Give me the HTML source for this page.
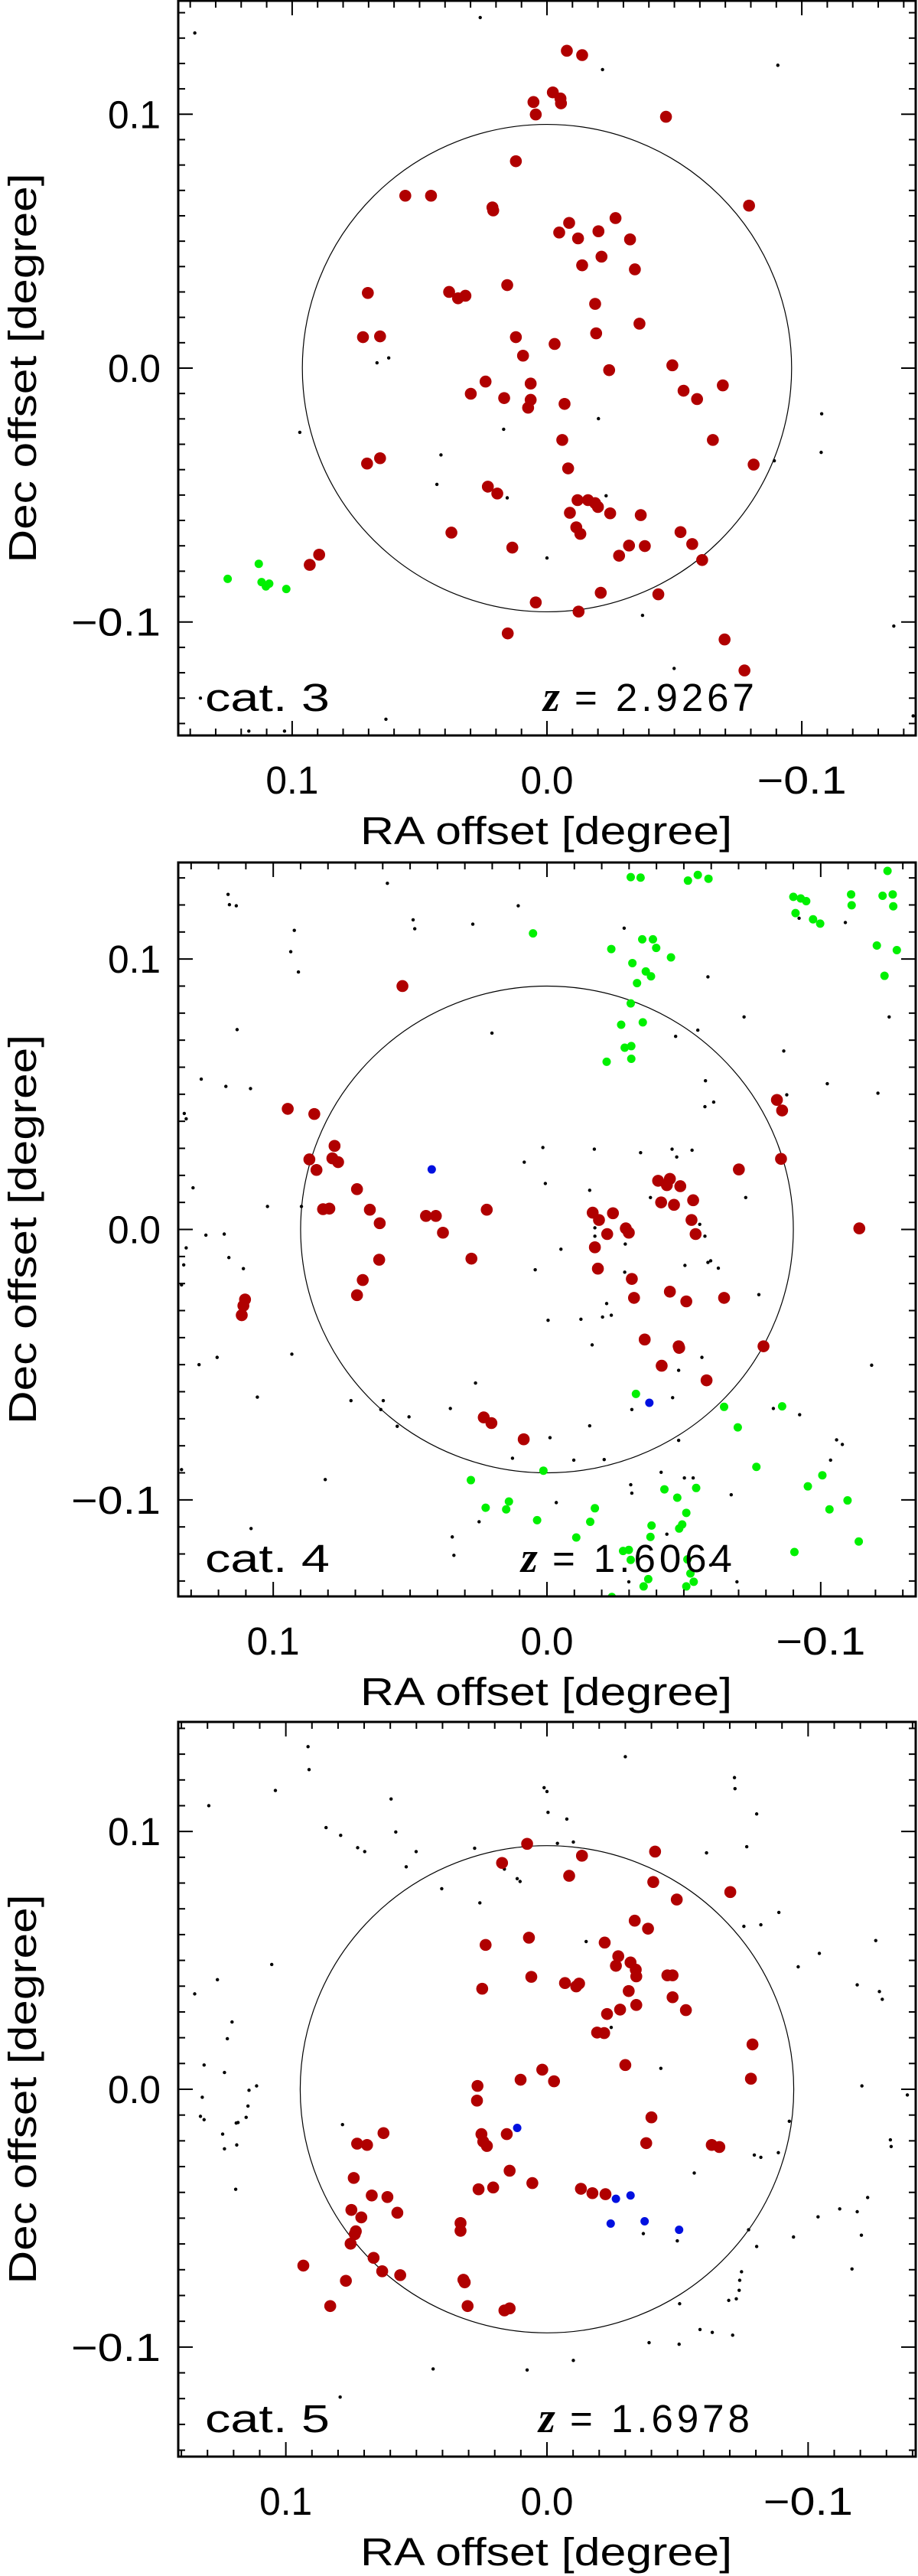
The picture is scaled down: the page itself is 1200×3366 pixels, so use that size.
<!DOCTYPE html>
<html><head><meta charset="utf-8">
<style>
html,body{margin:0;padding:0;background:#fff;}
svg{display:block;}
text{font-family:"Liberation Sans",sans-serif;fill:#000;}
</style></head>
<body>
<svg id="fig" width="1200" height="3366" viewBox="0 0 1200 3366" xmlns="http://www.w3.org/2000/svg"></svg>
<script>
// ---- data (milli-degrees: [RA offset, Dec offset]) ----
const tickValues = [0.1, 0.0, -0.1];
const tickLabels = ["0.1", "0.0", "\u22120.1"];
const catLabels = ["cat. 3", "cat. 4", "cat. 5"];
const zLabels = ["2.9267", "  1.6064", "1.6978"];
const circleRadii = [0.096, 0.090, 0.0945];

const cat3Red = [[-7.8,125.0],[-13.8,123.3],[5.3,104.8],[4.4,99.9],[-2.3,108.6],[-5.3,106.2],[-5.5,104.3],[-46.7,99.0],[12.2,81.5],[55.6,67.9],[45.5,67.9],[21.4,63.3],[21.1,62.1],[-79.3,64.0],[-8.7,57.2],[-26.9,59.1],[-4.8,53.4],[-12.2,51.1],[-20.2,53.9],[-32.6,50.7],[-21.4,43.9],[-13.8,40.5],[-34.5,38.9],[70.3,29.6],[38.4,30.0],[34.9,27.5],[32.0,28.5],[15.6,32.7],[-18.9,25.3],[-36.3,17.5],[72.2,12.2],[65.5,12.5],[-19.3,13.7],[12.2,12.2],[-3.0,9.5],[9.4,4.9],[-24.4,-0.8],[-49.2,1.1],[24.1,-5.3],[6.4,-6.1],[29.9,-10.1],[16.8,-11.8],[6.4,-12.5],[7.4,-15.6],[-6.9,-14.1],[-53.6,-8.9],[-58.9,-12.2],[-69.0,-6.8],[-6.0,-28.3],[-65.1,-28.3],[70.6,-37.6],[65.5,-35.5],[-8.3,-39.5],[-81.1,-38.0],[23.2,-46.7],[19.5,-49.4],[-12.0,-52.0],[-16.1,-52.0],[-18.9,-53.2],[-20.0,-54.7],[-9.0,-57.0],[-24.8,-57.2],[-36.8,-57.9],[37.5,-64.8],[-11.5,-62.7],[-13.1,-65.3],[-52.4,-64.6],[13.6,-70.7],[-32.2,-69.9],[-38.4,-70.1],[-57.0,-69.3],[-28.3,-73.9],[-60.9,-75.6],[93.1,-77.5],[89.4,-73.5],[4.4,-92.3],[-21.1,-88.5],[-43.7,-89.1],[-12.4,-95.9],[15.4,-104.5],[-69.7,-106.9],[-77.5,-119.1]];
const cat3Green = [[125.3,-83.0],[113.1,-77.1],[112.0,-84.3],[110.3,-86.0],[109.0,-84.9],[102.3,-87.0]];
const cat3Blue = [];
const cat3Black = [[138.2,132.0],[26.2,138.1],[-21.8,117.6],[-90.6,119.3],[62.1,4.0],[66.7,2.1],[97.0,-25.3],[17.0,-24.1],[-20.2,-19.9],[-107.8,-18.0],[-107.6,-33.2],[-89.2,-36.5],[41.6,-34.2],[43.2,-45.8],[15.6,-51.1],[-23.2,-50.3],[0,-74.8],[-37.5,-97.4],[-136.1,-101.6],[-49.9,-118.3],[63.2,-138.3],[117,-143],[103,-143],[-143.7,-137],[136,-130]];

const cat4Red = [[52.8,90.0],[94.7,44.6],[85.0,42.7],[77.6,30.9],[86.8,25.9],[84.2,22.0],[78.4,26.3],[76.3,24.9],[81.8,7.5],[79.5,7.7],[69.4,14.9],[64.7,7.3],[61.1,2.3],[44.2,5.0],[40.6,5.0],[38.0,-1.2],[22.0,7.3],[27.6,-10.8],[61.3,-11.2],[67.3,-18.7],[69.4,-24.3],[110.3,-25.9],[110.9,-28.2],[111.5,-31.7],[23.1,-69.5],[20.3,-71.6],[8.5,-77.6],[-16.7,6.2],[-19.0,3.5],[-24.1,6.0],[-22.0,-1.7],[-28.8,0.4],[-29.9,-1.2],[-17.5,-6.6],[-18.6,-14.5],[-31.0,-18.3],[-31.8,-25.3],[-40.6,18.0],[-44.9,18.7],[-43.8,16.4],[-48.7,16.0],[-41.7,10.0],[-46.4,9.1],[-53.4,10.8],[-52.8,3.5],[-54.3,-1.7],[-44.9,-23.0],[-50.9,-26.6],[-64.7,-25.3],[-70.1,22.2],[-84.0,47.9],[-85.9,44.0],[-85.5,26.1],[-114.1,0.4],[-35.7,-40.7],[-48.1,-43.2],[-48.3,-43.8],[-41.9,-50.4],[-79.1,-43.2],[-58.3,-55.8]];
const cat4Blue = [[42.1,22.2],[-37.4,-64.1]];
const cat4Green = [[5.1,109.5],[-30.6,130.3],[-34.2,130.1],[-51.5,129.0],[-55.1,131.1],[-59.0,129.7],[-23.5,103.7],[-34.8,107.3],[-38.7,107.3],[-39.9,104.1],[-31.2,98.5],[-36.1,95.4],[-38.0,93.6],[-45.3,100.6],[-32.9,91.1],[-30.6,83.6],[-27.1,75.7],[-35.0,76.6],[-30.8,67.8],[-28.4,67.2],[-30.8,63.1],[-21.8,62.0],[-90.0,123.0],[-92.7,122.4],[-94.7,121.4],[-90.8,117.0],[-97.2,114.7],[-99.8,113.1],[-111.1,123.9],[-111.3,119.9],[-122.6,123.4],[-126.3,123.9],[-124.4,132.6],[-126.5,119.5],[-120.5,105.0],[-127.8,103.3],[-123.3,93.8],[-32.5,-60.8],[-64.7,-65.6],[-85.9,-65.4],[-69.7,-73.2],[-76.5,-87.8],[1.3,-89.2],[27.8,-92.7],[22.4,-102.9],[14.9,-103.5],[13.9,-100.6],[3.6,-107.5],[-17.5,-103.1],[-15.8,-108.1],[-10.7,-113.9],[-29.9,-118.5],[-30.6,-122.2],[-27.8,-118.9],[-38.2,-109.5],[-37.8,-113.7],[-37.0,-129.3],[-35.3,-132.0],[-42.9,-96.1],[-47.6,-99.2],[-54.5,-95.6],[-50.9,-104.8],[-48.3,-110.6],[-49.4,-109.1],[-51.3,-122.0],[-52.4,-127.2],[-53.6,-130.3],[-50.9,-132.0],[-90.4,-119.3],[-95.3,-95.0],[-100.6,-90.9],[-103.2,-103.5],[-109.8,-100.2],[-113.9,-115.4],[-23.7,-135.9]];
const cat4Black = [[116.5,123.9],[116.0,120.1],[113.5,119.7],[92.3,110.6],[93.6,102.7],[90.8,95.2],[58.3,128.0],[48.9,114.5],[48.3,111.2],[27.1,112.9],[10.5,119.7],[113.2,73.9],[126.3,55.6],[117.3,52.9],[108.3,52.1],[132.5,42.9],[131.8,40.9],[129.3,15.4],[102.1,8.5],[89.7,8.5],[124.6,-2.1],[117.9,-1.7],[131.8,-6.8],[132.7,-13.1],[116.2,-10.4],[110.9,-14.5],[133.5,-20.5],[93.2,-46.1],[120.5,-47.3],[127.1,-50.0],[105.8,-62.0],[71.6,-63.3],[59.8,-63.3],[60.7,-66.6],[54.7,-72.8],[50.4,-69.3],[81.0,-92.5],[108.1,-110.6],[133.5,-88.8],[35.3,-66.2],[26.1,-56.8],[34.6,-113.7],[34.0,-120.5],[24.8,-108.1],[12.6,-84.6],[-1.1,-77.0],[-3.4,-101.0],[-9.8,-85.3],[-20.9,-85.1],[-15.6,-72.6],[-16.5,-42.7],[-12.4,-33.2],[-20.3,-32.4],[-21.8,-27.4],[-23.5,-31.7],[-28.4,-15.8],[-28.6,-5.4],[4.3,-14.9],[-5.1,-7.3],[-0.4,-33.6],[0.6,17.0],[1.5,30.3],[8.3,24.9],[-17.3,29.7],[-15.6,14.5],[-17.5,-2.5],[-17.5,0.6],[-34.2,28.4],[-45.7,29.7],[-47.4,26.8],[-53.0,29.3],[-37.8,11.8],[-55.8,1.9],[-57.7,-2.5],[-50.4,-13.3],[-58.8,-12.2],[-62.6,-14.3],[-59.8,-11.6],[-57.9,55.0],[-60.9,47.1],[-57.7,45.4],[-47.0,71.4],[-55.1,73.7],[-58.8,93.4],[-72.0,78.6],[-86.5,66.0],[-87.6,49.8],[-102.4,53.9],[-120.9,50.4],[-125.0,78.6],[-109.0,113.5],[-92.1,115.1],[-28.2,111.4],[20.1,72.6],[-72.6,11.8],[-77.4,-24.1],[-118.6,-50.2],[-82.7,-66.2],[-92.3,-68.5],[-105.8,-77.8],[-107.9,-79.5],[-103.6,-85.3],[-45.9,-62.2],[-56.6,-47.3],[-48.1,-52.1],[-41.7,-89.8],[-50.2,-91.9],[-53.4,-91.9],[-48.1,-78.0],[-54.3,-95.0],[-30.6,-94.4],[-31.0,-97.5],[-31.0,-66.6],[-43.8,-112.7],[-69.4,-130.3],[-59.8,-124.1],[-29.9,-130.3],[-67.3,-98.1]];

const cat5Red = [[7.6,95.2],[17.2,87.8],[-13.4,90.6],[-8.5,82.8],[-41.4,92.2],[-40.7,80.4],[-49.7,73.6],[-70.2,76.5],[-33.6,65.4],[-38.7,62.3],[23.5,56.0],[6.9,58.8],[-22.1,56.9],[-27.3,51.6],[-26.4,47.9],[-32.0,49.2],[-34.0,46.4],[-34.2,43.8],[-46.1,44.2],[-48.1,44.2],[6.0,43.6],[24.8,39.0],[-6.9,41.2],[-11.2,39.9],[-12.3,41.0],[-31.3,38.1],[-48.1,35.7],[-34.2,32.7],[-53.2,30.7],[-23.0,29.2],[-28.0,30.9],[-19.2,22.0],[-21.9,21.8],[-78.7,17.4],[-30.0,9.4],[1.8,7.6],[10.1,3.7],[-2.7,3.1],[-78.1,4.1],[26.6,1.3],[26.8,-4.4],[-40.0,-10.9],[25.1,-17.4],[24.4,-20.3],[23.0,-22.0],[15.4,-17.4],[62.6,-17.0],[72.7,-21.1],[68.9,-21.6],[-38.0,-20.9],[-63.1,-21.6],[-66.0,-22.4],[14.3,-31.6],[5.6,-36.4],[26.2,-38.8],[20.6,-38.1],[-13.0,-38.6],[-17.4,-40.3],[-22.4,-40.7],[74.0,-34.4],[67.1,-41.2],[61.1,-41.8],[57.3,-47.9],[74.9,-46.8],[71.1,-49.7],[73.2,-55.1],[73.6,-56.2],[75.2,-59.9],[66.4,-65.4],[63.1,-70.6],[56.2,-72.1],[33.1,-51.9],[33.1,-54.9],[93.3,-68.4],[77.0,-74.3],[83.0,-84.1],[32.0,-73.9],[31.5,-74.9],[30.4,-84.1],[16.3,-85.8],[14.3,-85.0]];
const cat5Blue = [[11.4,-15.0],[-26.4,-42.5],[-32.0,-41.2],[-24.4,-52.1],[-37.4,-51.2],[-50.6,-54.5]];
const cat5Green = [];
const cat5Black = [[91.5,132.9],[91.1,124.0],[104.0,115.9],[129.5,110.0],[59.7,112.6],[84.6,101.5],[79.0,98.5],[72.5,93.7],[69.8,92.2],[57.9,99.8],[50.1,92.2],[53.9,86.3],[40.3,77.8],[25.7,72.3],[27.7,93.5],[16.3,85.4],[11.4,81.7],[10.3,80.6],[1.1,117.0],[0,115.5],[-0.4,107.4],[-7.6,104.8],[-4.0,95.4],[-10.1,95.9],[-30.0,129.0],[-71.8,120.9],[-72.0,116.6],[-80.3,106.8],[-61.1,91.7],[-76.5,94.1],[-81.9,63.8],[-88.8,68.6],[-75.4,63.2],[-96.2,47.5],[-104.3,52.7],[-125.9,57.7],[-118.8,40.5],[-127.3,37.9],[-128.4,34.9],[-15.0,57.3],[-24.6,24.0],[-43.6,8.1],[-120.6,1.3],[-138.0,-2.2],[-131.5,-19.6],[-131.8,-22.2],[-92.8,-12.4],[-79.4,-25.5],[-81.9,-26.4],[-88.6,-24.6],[-56.4,-32.5],[-77.2,-54.5],[-80.3,-61.0],[-94.4,-57.3],[-103.8,-49.5],[-112.1,-46.4],[-118.8,-47.5],[-122.8,-42.0],[-120.4,-56.6],[-116.8,-69.7],[-74.5,-70.8],[-73.8,-74.1],[-73.6,-78.0],[-72.5,-81.3],[-69.6,-81.9],[-58.6,-93.2],[-63.3,-94.3],[-71.1,-95.4],[-50.8,-83.2],[-39.1,-98.3],[-50.6,-98.9],[-10.1,-105.2],[7.6,-108.9],[43.6,-108.5],[79.2,-119.4],[-36.9,-56.0],[-49.9,-58.8],[105.4,48.4],[126.2,42.5],[134.9,37.0],[120.6,26.1],[122.4,19.6],[131.3,9.4],[123.5,6.5],[114.1,-0.4],[111.2,1.3],[132.0,-3.1],[114.5,-6.5],[115.2,-10.9],[118.3,-12.9],[119.0,-13.1],[78.3,-13.7],[132.7,-10.5],[131.3,-11.8],[124.2,-17.4],[123.5,-23.1],[118.8,-21.6],[119.2,-38.8]];

// ---- layout ----
const panels = [
  {left:233,right:1197,top:1,bottom:961,xr:0.1447,yr:0.1447,zx:710,red:cat3Red,green:cat3Green,blue:cat3Blue,black:cat3Black},
  {left:233,right:1197,top:1127,bottom:2086,xr:0.1347,yr:0.1357,zx:681,red:cat4Red,green:cat4Green,blue:cat4Blue,black:cat4Black},
  {left:233,right:1197,top:2250,bottom:3210,xr:0.1412,yr:0.1425,zx:704,red:cat5Red,green:cat5Green,blue:cat5Blue,black:cat5Black}
];
const NS = "http://www.w3.org/2000/svg";
const svg = document.getElementById('fig');
function mk(tag, attrs, parent){
  const e = document.createElementNS(NS, tag);
  for (const k in attrs) e.setAttribute(k, attrs[k]);
  (parent||svg).appendChild(e);
  return e;
}

panels.forEach((p, i) => {
  const W = p.right - p.left, H = p.bottom - p.top;
  const xs = ra => p.left + (p.xr - ra) / (2 * p.xr) * W;
  const ys = dec => p.top + (p.yr - dec) / (2 * p.yr) * H;
  const g = mk('g', {});
  
  

  const clip = mk('clipPath', {id: 'clip' + i}, g);
  mk('rect', {x: p.left, y: p.top, width: W, height: H}, clip);
  const marks = mk('g', {'clip-path': 'url(#clip' + i + ')'}, g);
  
  

  const circ = mk('ellipse', {cx: xs(0), cy: ys(0), rx: xs(0) - xs(circleRadii[i]), ry: ys(-circleRadii[i]) - ys(0), fill: 'none', stroke: '#000', 'stroke-width': 1.2}, marks);
  
  

  p.black.forEach(d => {
    const c = mk('circle', {cx: xs(d[0] / 1000), cy: ys(d[1] / 1000), r: 2.2, fill: '#000'}, marks);
    
    
  });
  p.green.forEach(d => {
    const c = mk('circle', {cx: xs(d[0] / 1000), cy: ys(d[1] / 1000), r: 5.5, fill: '#00f000'}, marks);
    
    
  });
  p.red.forEach(d => {
    const c = mk('circle', {cx: xs(d[0] / 1000), cy: ys(d[1] / 1000), r: 7.8, fill: '#b00000'}, marks);
    
    
  });
  p.blue.forEach(d => {
    const c = mk('circle', {cx: xs(d[0] / 1000), cy: ys(d[1] / 1000), r: 5.5, fill: '#0010e0'}, marks);
    
    
  });

  // ticks
  const tk = mk('g', {stroke: '#000', 'stroke-width': 2}, g);
  
  
  for (let k = -15; k <= 15; k++) {
    const v = k / 100, len = (k % 10 === 0) ? 19 : 9;
    if (Math.abs(v) < p.xr) {
      const x = xs(v);
      mk('line', {x1: x, y1: p.bottom, x2: x, y2: p.bottom - len}, tk);
      mk('line', {x1: x, y1: p.top, x2: x, y2: p.top + len}, tk);
    }
    if (Math.abs(v) < p.yr) {
      const y = ys(v);
      mk('line', {x1: p.left, y1: y, x2: p.left + len, y2: y}, tk);
      mk('line', {x1: p.right, y1: y, x2: p.right - len, y2: y}, tk);
    }
  }
  const fr = mk('rect', {x: p.left, y: p.top, width: W, height: H, fill: 'none', stroke: '#000', 'stroke-width': 3}, g);
  
  

  tickValues.forEach((v, j) => {
    const w = tickLabels[j].length > 3 ? 117 : 69;
    const tx = mk('text', {x: xs(v), y: p.bottom + 76, 'font-size': 51, 'text-anchor': 'middle', textLength: w, lengthAdjust: 'spacingAndGlyphs'}, g);
    tx.textContent = tickLabels[j];
    
    
    const ty = mk('text', {x: 210, y: ys(v) + 18, 'font-size': 51, 'text-anchor': 'end', textLength: w, lengthAdjust: 'spacingAndGlyphs'}, g);
    ty.textContent = tickLabels[j];
    
    
  });

  const xt = mk('text', {x: 714, y: p.bottom + 142, 'font-size': 51, 'text-anchor': 'middle', textLength: 486, lengthAdjust: 'spacingAndGlyphs'}, g);
  xt.textContent = 'RA offset [degree]';
  
  

  const cy = (p.top + p.bottom) / 2;
  const yt = mk('text', {x: 0, y: 0, 'font-size': 51, 'text-anchor': 'middle', textLength: 509, lengthAdjust: 'spacingAndGlyphs', transform: 'translate(47,' + cy + ') rotate(-90)'}, g);
  yt.textContent = 'Dec offset [degree]';
  
  

  const cl = mk('text', {x: 268, y: p.bottom - 32, 'font-size': 51, textLength: 163, lengthAdjust: 'spacingAndGlyphs'}, g);
  cl.textContent = catLabels[i];
  
  

  const zl = mk('text', {x: p.zx, y: p.bottom - 32, 'font-size': 51}, g);
  
  
  zl.setAttribute('xml:space', 'preserve');
  const zi = mk('tspan', {'font-family': '"Liberation Serif", serif', 'font-style': 'italic', 'font-weight': 'bold', 'font-size': 56}, zl);
  zi.textContent = 'z';
  const zr = mk('tspan', {'letter-spacing': 5}, zl);
  zr.textContent = ' = ' + zLabels[i];
});
</script>
</body></html>
